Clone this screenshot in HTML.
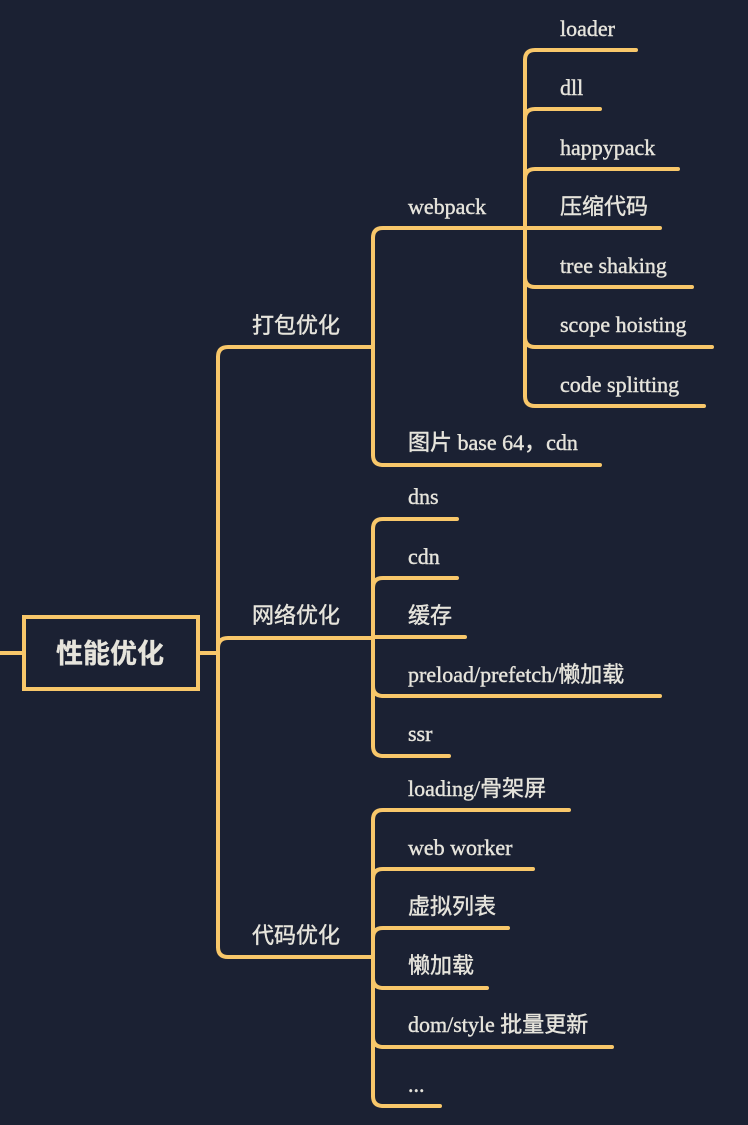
<!DOCTYPE html>
<html><head><meta charset="utf-8"><style>
html,body{margin:0;padding:0;background:#1b2133;}
svg{display:block}
text{fill:#e6e4dc;stroke:#e6e4dc;stroke-width:0.4px;font-family:"Liberation Serif","Noto Sans CJK SC",serif;font-size:22px;}
.r{font-family:"Liberation Sans","Noto Sans CJK SC",sans-serif;font-weight:bold;font-size:27px;stroke-width:0.3px;}
</style></head><body>
<svg width="748" height="1125" viewBox="0 0 748 1125" xmlns="http://www.w3.org/2000/svg">
<rect width="748" height="1125" fill="#1b2133"/>
<g fill="none" stroke="#f8c76a" stroke-width="4" stroke-linecap="round">
<rect x="24" y="617" width="174" height="72"/>
<path d="M0 653H24M198 653H218"/>
<path d="M218 357V947"/>
<path d="M218 357Q218 347 228 347H373"/>
<path d="M218 648Q218 638 228 638H373"/>
<path d="M218 947Q218 957 228 957H373"/>
<path d="M373 238V455"/>
<path d="M373 238Q373 228 383 228H525"/>
<path d="M373 455Q373 465 383 465H600"/>
<path d="M525 60V396"/>
<path d="M525 60Q525 50 535 50H636"/>
<path d="M525 119Q525 109 535 109H600"/>
<path d="M525 179Q525 169 535 169H678"/>
<path d="M525 228H660"/>
<path d="M525 277Q525 287 535 287H692"/>
<path d="M525 337Q525 347 535 347H712"/>
<path d="M525 396Q525 406 535 406H704"/>
<path d="M373 529V746"/>
<path d="M373 529Q373 519 383 519H457"/>
<path d="M373 588Q373 578 383 578H457"/>
<path d="M373 637H465"/>
<path d="M373 686Q373 696 383 696H660"/>
<path d="M373 746Q373 756 383 756H449"/>
<path d="M373 820V1096"/>
<path d="M373 820Q373 810 383 810H569"/>
<path d="M373 879Q373 869 383 869H533"/>
<path d="M373 938Q373 928 383 928H508"/>
<path d="M373 978Q373 988 383 988H487"/>
<path d="M373 1037Q373 1047 383 1047H612"/>
<path d="M373 1096Q373 1106 383 1106H440"/>
</g>
<text class="r" x="56" y="663">性能优化</text>
<text x="252" y="333">打包优化</text>
<text x="252" y="623">网络优化</text>
<text x="252" y="943">代码优化</text>
<text x="408" y="214">webpack</text>
<text x="408" y="450">图片 base 64，cdn</text>
<text x="560" y="36">loader</text>
<text x="560" y="95">dll</text>
<text x="560" y="155">happypack</text>
<text x="560" y="214">压缩代码</text>
<text x="560" y="273">tree shaking</text>
<text x="560" y="332">scope hoisting</text>
<text x="560" y="392">code splitting</text>
<text x="408" y="504">dns</text>
<text x="408" y="564">cdn</text>
<text x="408" y="623">缓存</text>
<text x="408" y="682">preload/prefetch/懒加载</text>
<text x="408" y="741">ssr</text>
<text x="408" y="796">loading/骨架屏</text>
<text x="408" y="855">web worker</text>
<text x="408" y="914">虚拟列表</text>
<text x="408" y="973">懒加载</text>
<text x="408" y="1032">dom/style 批量更新</text>
<text x="408" y="1092">...</text>
</svg>
</body></html>
